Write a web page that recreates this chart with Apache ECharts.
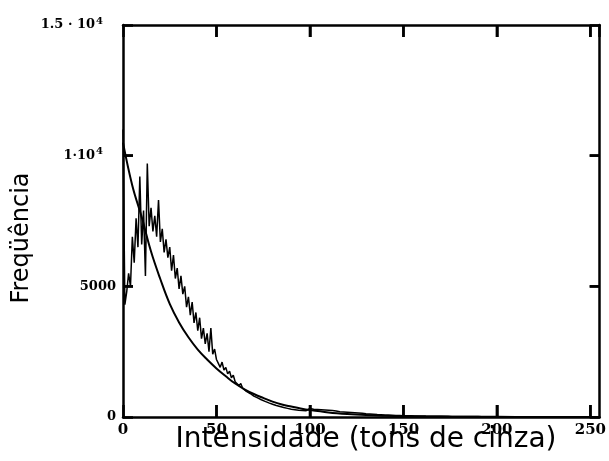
<!DOCTYPE html>
<html>
<head>
<meta charset="utf-8">
<script src="https://cdn.jsdelivr.net/npm/echarts@6/dist/echarts.min.js"></script>
<style>
  html, body { margin: 0; padding: 0; background: #fff; }
  #chart { width: 609px; height: 461px; }
</style>
</head>
<body>
<div id="chart"></div>
<script>
// Gray-level histogram (one count per intensity level 0..255)
const histCounts = [
  11000, 4300, 4800, 5500, 5000, 6900, 5900, 7600, 6500, 9200,
  6600, 7900, 5400, 9700, 7300, 8000, 7100, 7700, 6900, 8300,
  6700, 7200, 6300, 6800, 6100, 6500, 5600, 6200, 5300, 5700,
  4900, 5400, 4700, 5000, 4200, 4600, 3900, 4400, 3600, 4000,
  3300, 3800, 3000, 3400, 2800, 3200, 2500, 3400, 2400, 2600,
  2200, 2050, 1900, 2100, 1800, 1900, 1650, 1750, 1500, 1600,
  1350, 1420, 1200, 1280, 1100, 1150, 980, 1050, 900, 950,
  800, 870, 730, 790, 660, 720, 600, 650, 540, 590,
  490, 540, 440, 490, 400, 450, 360, 410, 330, 370,
  300, 340, 280, 320, 260, 300, 250, 290, 240, 300,
  330, 380, 300, 360, 290, 350, 280, 340, 270, 320,
  260, 310, 250, 290, 230, 260, 200, 230, 190, 210,
  180, 200, 170, 190, 160, 175, 150, 165, 140, 150,
  125, 135, 115, 120, 105, 110, 95, 100, 88, 92,
  80, 85, 74, 78, 68, 72, 62, 66, 57, 60,
  52, 55, 48, 51, 45, 47, 42, 44, 39, 41,
  37, 38, 34, 36, 32, 34, 30, 32, 28, 30,
  27, 28, 25, 27, 24, 25, 22, 24, 21, 22,
  20, 21, 19, 20, 18, 19, 17, 18, 16, 17,
  15, 16, 14, 15, 14, 14, 13, 14, 12, 13,
  12, 12, 11, 12, 10, 11, 10, 10, 9, 10,
  9, 9, 8, 9, 8, 8, 7, 8, 7, 7,
  6, 7, 6, 6, 5, 6, 5, 5, 5, 5,
  4, 5, 4, 4, 4, 4, 3, 4, 3, 3,
  3, 3, 3, 2, 3, 2, 2, 2, 2, 2,
  2, 1, 2, 1, 1, 1
];

// Fitted decay curve
const fitX = [0, 5, 10, 15, 20, 25, 30, 35, 40, 45, 50, 55, 60, 65, 70, 75, 80, 85, 90, 95,
  100, 110, 120, 130, 140, 150, 160, 170, 180, 200, 220, 240, 255];
const fitY = [10500, 8850, 7650, 6330, 5270, 4330, 3620, 3050, 2580, 2200, 1860, 1560, 1280, 1060, 880, 730, 590, 480, 400, 325,
  265, 175, 115, 75, 50, 33, 22, 15, 10, 5, 2, 1, 1];

// Axis ticks and labels
const xMin = 0, xMax = 255, xStep = 50;
const yMin = 0, yMax = 15000, yStep = 5000;
const xFrameTicks = [50, 100, 150, 200, 250];
const yFrameTicks = [5000, 10000];
const yTickLabels = { 0: '0', 5000: '5000', 10000: '{m|1·10}{e|4}{p|}', 15000: '{m|1.5 · 10}{e|4}{p|}' };

const histData = histCounts.map((v, i) => [i, v]);
const fitData = fitX.map((x, i) => [x, fitY[i]]);

const chart = echarts.init(document.getElementById('chart'), null, { renderer: 'canvas' });

const serif = 'DejaVu Serif';
const frameLine = () => ({ show: true, onZero: false, lineStyle: { color: '#000', width: 2.5 } });
const innerTick = len => ({ show: true, inside: true, length: len, lineStyle: { color: '#000', width: 2.5 } });

const titles = [
  {
    type: 'text', x: 366, y: 440,
    style: { text: 'Intensidade (tons de cinza)', font: '28px "DejaVu Sans"', fill: '#000', textAlign: 'center', textVerticalAlign: 'middle' }
  },
  {
    type: 'text', x: 22, y: 238, rotation: Math.PI / 2,
    style: { text: 'Freqüência', font: '24px "DejaVu Sans"', fill: '#000', textAlign: 'center', textVerticalAlign: 'middle' }
  }
];

chart.setOption({
  backgroundColor: '#fff',
  animation: false,
  grid: { left: 123, right: 6, top: 25, bottom: 44 },
  xAxis: [
    {
      type: 'value', position: 'bottom', min: xMin, max: xMax, interval: xStep,
      axisLine: frameLine(),
      axisTick: innerTick(12),
      axisLabel: {
        margin: 6, fontFamily: serif, fontWeight: 'bold', fontSize: 15, color: '#000',
        showMaxLabel: false,
        formatter: v => (v % xStep === 0 ? String(v) : '')
      },
      splitLine: { show: false }
    },
    {
      type: 'value', position: 'top', min: xMin, max: xMax, interval: xStep,
      axisLine: frameLine(),
      axisTick: innerTick(12),
      axisLabel: { show: false },
      splitLine: { show: false }
    }
  ],
  yAxis: [
    {
      type: 'value', position: 'left', min: yMin, max: yMax, interval: yStep,
      axisLine: frameLine(),
      axisTick: innerTick(10),
      axisLabel: {
        margin: 7,
        formatter: v => yTickLabels[v],
        fontFamily: serif, fontWeight: 'bold', fontSize: 13, color: '#000',
        rich: {
          m: { fontFamily: serif, fontWeight: 'bold', fontSize: 13, color: '#000' },
          e: { fontFamily: serif, fontWeight: 'bold', fontSize: 10, color: '#000', verticalAlign: 'bottom', padding: [0, 0, 8, 1] },
          p: { width: 13 }
        }
      },
      splitLine: { show: false }
    },
    {
      type: 'value', position: 'right', min: yMin, max: yMax, interval: yStep,
      axisLine: frameLine(),
      axisTick: innerTick(10),
      axisLabel: { show: false },
      splitLine: { show: false }
    }
  ],
  graphic: titles,
  series: [
    {
      name: 'Histograma', type: 'line', xAxisIndex: 0, yAxisIndex: 0,
      data: histData, showSymbol: false,
      lineStyle: { color: '#000', width: 1.5 }
    },
    {
      name: 'Ajuste', type: 'line', xAxisIndex: 0, yAxisIndex: 0,
      data: fitData, showSymbol: false, smooth: 0.4,
      lineStyle: { color: '#000', width: 2 }
    }
  ]
});

// Inward tick marks on all four sides of the frame, positioned through the grid's scales
const tickStroke = { stroke: '#000', lineWidth: 2.5 };
const toPx = p => chart.convertToPixel({ gridIndex: 0 }, p);
const tickMarks = [];
xFrameTicks.forEach(v => {
  const b = toPx([v, yMin]);
  const t = toPx([v, yMax]);
  tickMarks.push({ type: 'line', z: 10, shape: { x1: b[0], y1: b[1], x2: b[0], y2: b[1] - 12 }, style: tickStroke });
  tickMarks.push({ type: 'line', z: 10, shape: { x1: t[0], y1: t[1], x2: t[0], y2: t[1] + 12 }, style: tickStroke });
});
yFrameTicks.forEach(v => {
  const l = toPx([xMin, v]);
  const r = toPx([xMax, v]);
  tickMarks.push({ type: 'line', z: 10, shape: { x1: l[0], y1: l[1], x2: l[0] + 10, y2: l[1] }, style: tickStroke });
  tickMarks.push({ type: 'line', z: 10, shape: { x1: r[0], y1: r[1], x2: r[0] - 10, y2: r[1] }, style: tickStroke });
});
chart.setOption({ graphic: titles.concat(tickMarks) });
</script>
</body>
</html>
